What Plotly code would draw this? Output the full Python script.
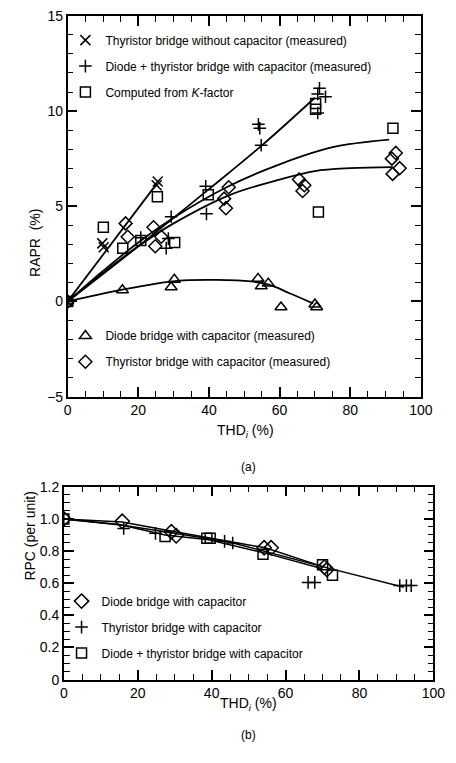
import plotly.graph_objects as go

# ---------------- (a) RAPR versus THD_i ----------------
# Thyristor bridge without capacitor (measured)
thy_nocap_x = [0, 9.8, 10.2, 25.2, 25.5]
thy_nocap_y = [0, 3.05, 2.85, 6.1, 6.3]

# Diode + thyristor bridge with capacitor (measured)
dt_cap_x = [0, 20.7, 27.9, 28.5, 29.3, 39.1, 39.3, 54.0, 54.4, 54.8, 70.8, 71.3, 73.0, 70.8]
dt_cap_y = [0, 3.35, 2.8, 3.3, 4.45, 6.05, 4.6, 9.3, 9.1, 8.2, 10.9, 11.2, 10.75, 9.9]

# Computed from K-factor
kf_x = [0, 10.1, 15.6, 20.7, 25.4, 30.3, 39.8, 70.2, 70.2, 71.0, 92.1]
kf_y = [0, 3.9, 2.8, 3.2, 5.5, 3.1, 5.6, 10.4, 10.1, 4.7, 9.1]

# Diode bridge with capacitor (measured)
dio_cap_x = [0, 15.5, 29.3, 30.2, 53.9, 54.8, 56.8, 60.4, 70.0, 70.5]
dio_cap_y = [0, 0.6, 0.75, 1.15, 1.2, 0.8, 0.95, -0.3, -0.15, -0.3]

# Thyristor bridge with capacitor (measured)
thy_cap_x = [0, 16.4, 17.0, 24.3, 24.8, 26.5, 44.3, 45.6, 44.8, 65.5, 67.0, 66.5, 92.9, 91.8, 94.0, 92.0]
thy_cap_y = [0, 4.1, 3.4, 3.9, 2.9, 3.4, 5.4, 6.0, 4.9, 6.4, 6.1, 5.8, 7.8, 7.5, 7.0, 6.7]

# Fitted trend curves
fit_nocap_x = [0, 25.3]
fit_nocap_y = [0, 6.2]
fit_dt_x = [0, 20, 40, 55, 70]
fit_dt_y = [0, 2.9, 5.9, 8.2, 10.7]
fit_up_x = [0, 10, 20, 30, 45, 60, 75, 91]
fit_up_y = [0, 1.6, 3.1, 4.4, 6.0, 7.2, 8.1, 8.5]
fit_low_x = [0, 10, 20, 30, 46, 60, 70, 80, 92]
fit_low_y = [0, 1.5, 2.9, 4.1, 5.6, 6.4, 6.85, 7.0, 7.05]
fit_dio_x = [0, 15.5, 31, 42, 52, 57, 63, 69.5]
fit_dio_y = [0, 0.62, 1.08, 1.13, 1.05, 0.88, 0.42, -0.1]

# ---------------- (b) RPC versus THD_i ----------------
rpc_dio_x = [0, 15.8, 29.1, 30.4, 54.2, 56.1, 70.5, 71.2]
rpc_dio_y = [1.0, 0.985, 0.92, 0.895, 0.82, 0.82, 0.70, 0.685]
rpc_thy_x = [0, 16.2, 24.8, 43.5, 45.7, 66.1, 67.9, 90.9, 92.7, 94.0]
rpc_thy_y = [1.0, 0.94, 0.91, 0.86, 0.85, 0.605, 0.605, 0.585, 0.585, 0.585]
rpc_dt_x = [0, 27.4, 38.7, 39.6, 53.9, 70.0, 72.7]
rpc_dt_y = [1.0, 0.89, 0.88, 0.88, 0.78, 0.715, 0.65]

fit_rpc_dio_x = [0, 15.8, 29, 54.5, 70.5]
fit_rpc_dio_y = [1.0, 0.98, 0.925, 0.82, 0.70]
fit_rpc_thy_x = [0, 16, 30, 45, 70.5, 92]
fit_rpc_thy_y = [1.0, 0.96, 0.91, 0.855, 0.70, 0.575]
fit_rpc_dt_x = [0, 15, 27.4, 39.2, 54, 70]
fit_rpc_dt_y = [1.0, 0.965, 0.90, 0.87, 0.79, 0.69]

# Axis ticks
xa_ticks = [0, 20, 40, 60, 80, 100]
ya_ticks = [-5, 0, 5, 10, 15]
yb_ticks = [0, 0.2, 0.4, 0.6, 0.8, 1.0, 1.2]
yb_labels = ["0", "0.2", "0.4", "0.6", "0.8", "1.0", "1.2"]

FONT = "Liberation Sans, Arial, Helvetica, sans-serif"
W, H = 456, 763

fig = go.Figure()


def markers(x, y, name, symbol, size, xa, ya, legend):
    fig.add_trace(go.Scatter(
        x=x, y=y, mode="markers", name=name, legend=legend, legendgroup=name + legend,
        marker=dict(symbol=symbol, size=size, color="black",
                    line=dict(color="black", width=1.5)),
        xaxis=xa, yaxis=ya))


def curve(x, y, xa, ya, width=1.8, shape="spline"):
    fig.add_trace(go.Scatter(
        x=x, y=y, mode="lines", showlegend=False, hoverinfo="skip",
        line=dict(color="black", width=width, shape=shape, smoothing=1.0),
        xaxis=xa, yaxis=ya))


# (a) curves
curve(fit_nocap_x, fit_nocap_y, "x", "y", shape="linear")
curve(fit_dt_x, fit_dt_y, "x", "y")
curve(fit_up_x, fit_up_y, "x", "y")
curve(fit_low_x, fit_low_y, "x", "y")
curve(fit_dio_x, fit_dio_y, "x", "y")

# (a) measured / computed points
markers(thy_nocap_x, thy_nocap_y, "Thyristor bridge without capacitor (measured)",
        "x-thin-open", 10, "x", "y", "legend")
markers(dt_cap_x, dt_cap_y, "Diode + thyristor bridge with capacitor (measured)",
        "cross-thin-open", 9, "x", "y", "legend")
markers(kf_x, kf_y, "Computed from <i>K</i>-factor",
        "square-open", 10, "x", "y", "legend")
markers(dio_cap_x, dio_cap_y, "Diode bridge with capacitor (measured)",
        "triangle-up-open", 10.5, "x", "y", "legend2")
markers(thy_cap_x, thy_cap_y, "Thyristor bridge with capacitor (measured)",
        "diamond-open", 10, "x", "y", "legend2")

# (b) curves
curve(fit_rpc_dio_x, fit_rpc_dio_y, "x2", "y2", width=1.5, shape="linear")
curve(fit_rpc_thy_x, fit_rpc_thy_y, "x2", "y2", width=1.5, shape="linear")
curve(fit_rpc_dt_x, fit_rpc_dt_y, "x2", "y2", width=1.5, shape="linear")

# (b) points
markers(rpc_dio_x, rpc_dio_y, "Diode bridge with capacitor",
        "diamond-open", 11, "x2", "y2", "legend3")
markers(rpc_thy_x, rpc_thy_y, "Thyristor bridge with capacitor",
        "cross-thin-open", 9, "x2", "y2", "legend3")
markers(rpc_dt_x, rpc_dt_y, "Diode + thyristor bridge with capacitor",
        "square-open", 10, "x2", "y2", "legend3")

# frame with inward major/minor ticks on all four sides
axis_common = dict(showline=True, linecolor="black", linewidth=1.5, mirror="allticks",
                   ticks="inside", ticklen=10, tickwidth=1.5, tickcolor="black",
                   layer="above traces")
minor_common = dict(ticks="inside", ticklen=6, tickcolor="black", tickwidth=1.2)

fig.update_layout(
    width=W, height=H, autosize=False,
    margin=dict(l=0, r=0, t=0, b=0),
    paper_bgcolor="white", plot_bgcolor="white",
    font=dict(family=FONT, color="black", size=14),
    xaxis=dict(domain=[66 / W, 432 / W], range=[0, 100], tickvals=xa_ticks,
               minor=dict(dtick=5, **minor_common), anchor="y", **axis_common),
    yaxis=dict(domain=[1 - 397 / H, 1 - 8 / H], range=[-5, 15], tickvals=ya_ticks,
               minor=dict(dtick=1, **minor_common), anchor="x", **axis_common),
    xaxis2=dict(domain=[62 / W, 445 / W], range=[0, 100], tickvals=xa_ticks,
                minor=dict(dtick=5, **minor_common), anchor="y2", **axis_common),
    yaxis2=dict(domain=[1 - 686 / H, 1 - 489 / H], range=[0, 1.2], tickvals=yb_ticks,
                ticktext=yb_labels, minor=dict(dtick=0.05, **minor_common),
                anchor="x2", **axis_common),
    showlegend=True,
)

legend_common = dict(bgcolor="rgba(0,0,0,0)", borderwidth=0, xanchor="left", yanchor="top",
                     font=dict(family=FONT, size=12, color="black"), indentation=-10,
                     tracegroupgap=7, itemclick=False, itemdoubleclick=False)
fig.update_layout(
    legend=dict(x=74 / W, y=1 - 18 / H, **legend_common),
    legend2=dict(x=74 / W, y=1 - 320 / H, **legend_common),
    legend3=dict(x=70 / W, y=1 - 591 / H, **legend_common),
)

ann = dict(xref="paper", yref="paper", showarrow=False,
           font=dict(family=FONT, size=14, color="black"))
small = dict(family=FONT, size=12, color="black")
fig.add_annotation(x=250 / W, y=1 - 432 / H, text="THD<sub><i>i</i></sub> (%)", **ann)
fig.add_annotation(x=253 / W, y=1 - 469 / H, text="(a)", **{**ann, "font": small})
fig.add_annotation(x=22 / W, y=1 - 203 / H, text="RAPR  (%)", textangle=-90, **ann)
fig.add_annotation(x=253 / W, y=1 - 722 / H, text="THD<sub><i>i</i></sub> (%)", **ann)
fig.add_annotation(x=253 / W, y=1 - 752 / H, text="(b)", **{**ann, "font": small})
fig.add_annotation(x=17 / W, y=1 - 587 / H, text="RPC (per unit)", textangle=-90, **ann)

fig.write_html("out.html", config={"responsive": False, "displayModeBar": False})
